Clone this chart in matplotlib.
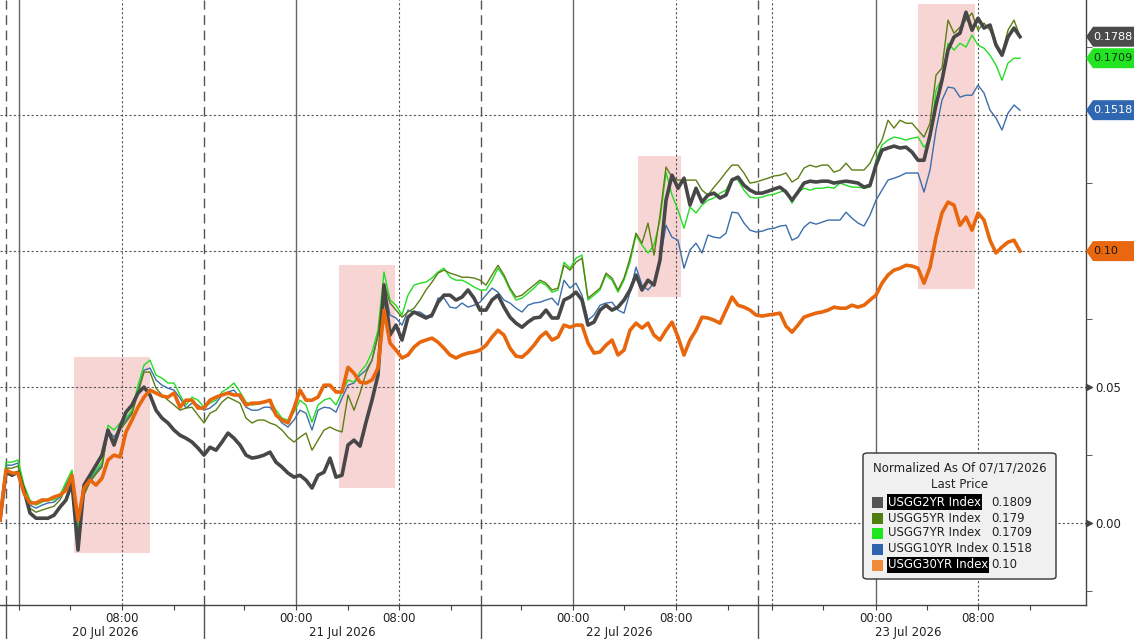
import numpy as np
import matplotlib.pyplot as plt
from matplotlib.patches import Rectangle, FancyBboxPatch, Polygon
from matplotlib.transforms import blended_transform_factory, IdentityTransform

plt.rcParams['font.family'] = ['DejaVu Sans']

# normalized change (in thousandths), one sample per step of the
# gap-compressed intraday axis, 20 Jul -> 23 Jul 2026
usgg2yr = [1.1, 18.7, 17.6, 18.7, 12.1, 3.7, 1.8, 1.8, 1.8, 2.9,
           5.9, 8.5, 14.7, -9.9, 14.0, 17.6, 21.3, 25.0, 34.2, 28.7,
           35.3, 40.8, 43.4, 47.8, 50.0, 47.1, 41.5, 38.6, 36.8, 34.2,
           32.3, 31.2, 29.8, 27.6, 25.0, 27.9, 26.8, 29.8, 33.1, 31.2,
           28.7, 25.0, 23.9, 24.3, 25.0, 26.1, 22.4, 20.6, 18.4, 16.9,
           17.6, 15.8, 12.9, 17.6, 18.7, 23.9, 16.9, 17.6, 28.7, 30.5,
           28.3, 37.1, 45.2, 54.4, 87.5, 69.1, 72.8, 67.3, 75.7, 77.6,
           76.5, 75.4, 76.5, 81.2, 83.8, 83.8, 82.0, 83.1, 85.7, 82.7,
           78.3, 78.3, 82.0, 83.8, 79.4, 75.7, 73.5, 72.0, 73.9, 75.4,
           75.7, 78.3, 75.4, 75.4, 82.0, 83.1, 84.9, 82.0, 72.8, 73.9,
           78.3, 80.1, 78.3, 79.4, 82.0, 85.7, 91.2, 85.7, 89.3, 87.5,
           96.7, 118.7, 127.9, 123.1, 126.8, 116.9, 123.1, 118.0, 120.6, 121.3,
           119.5, 120.6, 126.1, 127.2, 124.2, 122.4, 121.3, 121.3, 122.0, 122.8,
           123.5, 121.7, 118.7, 121.7, 125.0, 125.7, 125.4, 125.7, 125.7, 125.0,
           125.4, 125.7, 125.4, 125.0, 123.5, 124.2, 131.6, 137.1, 137.9, 138.6,
           137.9, 138.2, 136.4, 133.4, 133.4, 142.6, 153.7, 162.8, 173.9, 178.7,
           180.1, 187.8, 181.2, 185.6, 182.0, 183.1, 175.7, 172.0, 178.7, 182.0,
           178.8]

usgg5yr = [1.1, 20.2, 20.2, 21.0, 12.1, 5.5, 4.0, 4.8, 5.5, 6.2,
           8.5, 12.9, 17.3, -5.5, 10.3, 15.1, 18.0, 20.6, 33.5, 30.5,
           34.2, 37.1, 40.1, 47.8, 55.5, 55.5, 49.6, 47.1, 45.2, 43.4,
           41.5, 42.3, 42.6, 39.7, 36.8, 40.4, 41.5, 44.5, 46.3, 45.2,
           44.1, 38.6, 36.8, 37.9, 37.9, 36.8, 36.0, 34.2, 31.6, 29.8,
           31.6, 33.1, 26.8, 30.5, 34.2, 35.3, 34.2, 33.5, 47.1, 41.5,
           47.8, 55.1, 59.9, 69.1, 88.2, 80.9, 78.3, 75.7, 77.6, 79.0,
           82.0, 85.7, 88.6, 91.9, 93.0, 91.9, 91.2, 90.4, 90.4, 90.1,
           89.3, 87.5, 91.2, 94.8, 91.2, 86.4, 83.1, 83.8, 85.7, 87.5,
           89.3, 88.2, 85.7, 86.4, 94.8, 93.0, 95.9, 97.4, 82.7, 84.5,
           86.4, 91.9, 90.1, 85.7, 90.1, 97.4, 106.6, 102.9, 110.3, 98.5,
           113.2, 130.9, 127.2, 126.1, 126.1, 126.1, 126.1, 122.4, 120.6, 123.5,
           126.1, 129.0, 131.6, 131.6, 128.7, 125.0, 125.4, 126.1, 126.8, 127.6,
           127.9, 128.7, 125.4, 126.8, 130.5, 131.6, 130.9, 131.6, 131.6, 129.0,
           129.8, 132.3, 129.8, 129.8, 129.8, 132.3, 137.1, 140.8, 148.1, 145.2,
           148.1, 147.0, 147.0, 144.5, 141.9, 147.0, 164.7, 167.3, 184.9, 180.1,
           182.3, 184.9, 187.5, 181.2, 183.8, 181.2, 176.4, 172.8, 181.2, 184.9,
           179.0]

usgg7yr = [1.1, 22.4, 22.4, 23.2, 14.0, 8.5, 6.6, 7.7, 8.5, 8.5,
           10.3, 15.1, 19.5, -2.6, 12.1, 16.5, 19.5, 22.4, 36.0, 34.2,
           36.8, 38.6, 41.5, 50.7, 58.1, 59.9, 54.4, 53.3, 51.5, 51.5,
           47.1, 43.4, 46.3, 45.2, 42.6, 44.1, 45.2, 48.2, 49.6, 51.5,
           48.2, 44.5, 43.4, 43.7, 44.5, 45.2, 41.5, 38.6, 37.9, 40.8,
           45.2, 43.4, 37.1, 43.4, 45.2, 46.0, 43.4, 48.2, 52.6, 51.8,
           55.5, 58.1, 62.9, 70.9, 92.3, 82.0, 80.1, 76.5, 83.8, 87.5,
           88.2, 88.6, 90.1, 92.3, 93.7, 90.4, 89.3, 89.3, 88.2, 86.8,
           85.7, 85.7, 89.3, 93.7, 90.4, 85.7, 82.0, 82.7, 84.5, 86.4,
           88.6, 87.5, 84.9, 85.7, 95.9, 93.7, 97.4, 98.5, 82.0, 83.8,
           85.7, 91.2, 89.3, 84.9, 89.3, 95.9, 105.9, 102.2, 99.3, 102.2,
           111.4, 129.0, 120.6, 115.1, 108.4, 116.2, 114.0, 116.9, 118.7, 119.5,
           121.3, 122.4, 126.8, 126.1, 122.4, 119.8, 119.5, 119.8, 120.6, 120.9,
           121.7, 122.4, 117.6, 121.7, 123.1, 122.4, 123.1, 123.1, 123.5, 123.1,
           125.0, 124.2, 123.5, 123.5, 123.1, 123.5, 133.4, 139.0, 140.8, 141.9,
           141.5, 140.8, 141.5, 141.9, 138.2, 140.8, 159.2, 163.6, 176.4, 173.9,
           176.4, 175.0, 179.4, 175.7, 174.6, 172.0, 168.4, 162.8, 169.1, 170.9,
           170.9]

usgg10yr = [1.1, 21.3, 21.3, 22.1, 13.2, 6.6, 5.5, 6.6, 7.4, 7.7,
            9.6, 14.0, 18.4, -4.4, 11.4, 15.8, 18.7, 21.3, 34.2, 31.6,
            34.9, 37.9, 40.8, 48.9, 56.2, 57.0, 52.6, 50.7, 49.6, 48.9,
            46.0, 42.3, 44.1, 43.4, 41.5, 42.3, 44.1, 47.1, 48.2, 48.9,
            46.0, 42.6, 41.5, 41.5, 42.6, 42.6, 39.7, 36.8, 35.3, 37.9,
            41.5, 40.4, 34.2, 41.5, 42.6, 42.3, 40.8, 46.0, 50.7, 51.5,
            54.4, 56.2, 59.9, 69.1, 87.5, 76.5, 75.4, 72.8, 78.3, 77.6,
            77.6, 76.1, 75.7, 82.7, 82.7, 79.4, 79.0, 80.9, 79.4, 80.1,
            81.2, 83.8, 86.4, 84.9, 82.0, 80.9, 79.0, 77.6, 80.1, 80.9,
            81.2, 82.0, 82.7, 80.1, 89.3, 86.4, 88.2, 83.8, 74.6, 76.5,
            80.1, 80.9, 81.2, 78.3, 77.2, 84.9, 94.1, 87.5, 85.7, 88.2,
            96.7, 109.5, 105.1, 104.0, 93.7, 100.4, 102.9, 99.3, 105.9, 105.1,
            104.8, 106.6, 114.3, 114.0, 110.3, 107.7, 107.0, 107.3, 108.1, 108.4,
            109.2, 109.5, 104.0, 105.1, 108.8, 110.6, 109.9, 110.6, 111.4, 111.4,
            111.4, 114.3, 112.1, 110.3, 109.2, 113.2, 118.7, 122.4, 126.1, 126.8,
            127.6, 128.7, 128.7, 128.7, 121.7, 129.8, 144.5, 155.5, 160.3, 159.9,
            156.6, 157.3, 157.3, 161.0, 158.1, 151.8, 148.9, 144.5, 150.7, 153.7,
            151.8]

usgg30yr = [1.1, 19.5, 18.4, 18.4, 11.0, 7.4, 7.4, 8.5, 8.5, 9.6,
            10.3, 12.1, 17.6, 1.1, 12.9, 15.8, 14.0, 16.5, 23.2, 25.0,
            24.3, 33.5, 37.9, 42.6, 46.3, 48.9, 47.8, 46.7, 46.3, 47.8,
            42.6, 45.2, 45.2, 42.3, 42.3, 45.2, 46.3, 47.1, 47.8, 47.1,
            47.1, 43.4, 44.1, 44.1, 44.5, 45.2, 39.7, 37.9, 36.8, 42.3,
            48.9, 45.2, 45.2, 46.3, 50.7, 50.7, 48.2, 48.2, 57.3, 55.1,
            51.8, 51.5, 52.6, 57.0, 78.3, 66.2, 63.6, 60.7, 61.8, 64.7,
            66.5, 67.3, 68.0, 66.5, 64.3, 61.8, 60.7, 61.8, 62.5, 62.9,
            63.6, 65.4, 68.4, 70.9, 69.1, 64.3, 61.4, 61.0, 62.9, 65.4,
            68.4, 70.2, 67.3, 68.4, 72.8, 72.0, 72.8, 72.8, 66.2, 62.5,
            62.9, 65.4, 67.3, 61.8, 63.6, 70.9, 73.5, 71.7, 73.5, 69.1,
            67.3, 70.9, 73.9, 68.4, 61.8, 67.3, 70.9, 75.7, 75.4, 74.6,
            73.5, 78.3, 83.1, 80.1, 79.4, 78.3, 76.5, 76.1, 76.5, 76.8,
            77.2, 72.4, 70.2, 72.8, 75.7, 76.5, 77.2, 77.6, 78.3, 79.4,
            79.0, 79.0, 80.1, 79.4, 80.1, 82.0, 83.8, 88.2, 91.2, 93.0,
            93.7, 94.8, 94.5, 93.7, 88.2, 94.1, 105.1, 114.0, 118.0, 116.9,
            109.5, 112.5, 107.7, 114.0, 111.4, 104.0, 99.3, 101.5, 103.3, 104.0,
            100.0]

names = ['USGG2YR Index', 'USGG5YR Index', 'USGG7YR Index', 'USGG10YR Index', 'USGG30YR Index']
last_price = ['0.1809', '0.179', '0.1709', '0.1518', '0.10']

# shaded "move" windows: start, end (axis steps), low, high
zone_start = [12.3, 56.5, 106.3, 153.0]
zone_end = [25.0, 65.8, 113.5, 162.5]
zone_low = [-0.011, 0.013, 0.083, 0.086]
zone_high = [0.061, 0.095, 0.135, 0.191]

# x axis (steps): session breaks, midnights, 08:00, minor ticks
session_break = [1.0, 34.0, 80.2, 126.3]
midnight = [3.2, 49.3, 95.5, 146.0]
eight_am = [20.3, 66.5, 112.7, 163.0]
tick_pos = [3.2, 11.7, 20.3, 29.0, 40.7, 49.3, 58.0, 66.5, 75.2, 86.8,
            95.5, 104.0, 112.7, 121.3, 128.7, 137.2, 146.0, 154.5, 163.0, 171.7]
days = ['20 Jul 2026', '21 Jul 2026', '22 Jul 2026', '23 Jul 2026']

# last value callouts on the right axis
call_vals = [0.1788, 0.1709, 0.1518, 0.10]
call_text = ['0.1788', '0.1709', '0.1518', '0.10']
call_fc = ['#4b4b4b', '#22e422', '#2f68b0', '#e8670f']
call_tc = ['white', '#0d2f0d', 'white', '#1a1a1a']

series = [usgg2yr, usgg5yr, usgg7yr, usgg10yr, usgg30yr]
colors = ['#474747', '#5b7f14', '#22dd22', '#3b6eaa', '#e8660c']
legend_colors = ['#555555', '#4e7d10', '#1ee61e', '#2c64ad', '#f28a3c']
widths = [2.6, 1.0, 1.0, 1.0, 2.6]
draw_order = [3, 2, 1, 0, 4]

W, H = 1134, 639
fig = plt.figure(figsize=(W / 100, H / 100), dpi=100)
ax = fig.add_axes([0, 34 / H, 1086 / W, 605 / H])
ax.set_xlim(0, 181)
ax.set_ylim(-0.0301, 0.1923)

for s, e, lo, hi in zip(zone_start, zone_end, zone_low, zone_high):
    ax.add_patch(Rectangle((s, lo), e - s, hi - lo, fc='#f8d5d5', ec='none', zorder=0))

for y in [0, 0.05, 0.10, 0.15]:
    ax.axhline(y, color='#555555', lw=0.8, ls=(0, (2, 2)), zorder=1)
for x in eight_am + [128.7]:
    ax.axvline(x, color='#555555', lw=0.8, ls=(0, (2, 2)), zorder=1)
for x in midnight:
    ax.axvline(x, color='#666666', lw=1.0, zorder=1)
for x in session_break:
    ax.axvline(x, color='#555555', lw=1.0, ls=(0, (7, 4)), zorder=1)
    ax.plot([x, x], [0, -0.06], color='#555555', lw=1.0,
            transform=ax.get_xaxis_transform(), clip_on=False)

for i in draw_order:
    vals = np.array(series[i]) / 1000
    ax.plot(np.arange(len(vals)), vals, color=colors[i], lw=widths[i], zorder=3)

# axes styling
for side in ['left', 'top']:
    ax.spines[side].set_visible(False)
for side in ['right', 'bottom']:
    ax.spines[side].set_color('#444444')
    ax.spines[side].set_linewidth(1.0)

ax.set_xticks(tick_pos)
ax.set_xticklabels(['08:00' if t in eight_am else '00:00' if t in midnight and t != midnight[0] else ''
                    for t in tick_pos])
ax.tick_params(axis='x', length=3.5, color='#444444', labelsize=8.5, labelcolor='#222222', pad=1.5)

# 0.10 and 0.15 labels sit under the callouts, so only 0.00 / 0.05 are written
ax.yaxis.tick_right()
ax.set_yticks([0, 0.05, 0.10, 0.15])
ax.set_yticklabels(['0.00', '0.05', '', ''])
ax.set_yticks([-0.025, 0.025, 0.075, 0.125, 0.175], minor=True)
ax.tick_params(axis='y', which='major', length=0, labelsize=8.5, labelcolor='#222222', pad=7)
ax.tick_params(axis='y', which='minor', length=4, color='#444444')
bt = blended_transform_factory(ax.transAxes, ax.transData)
for y in [0, 0.05]:
    ax.plot([1.003], [y], marker='>', ms=4.5, color='#444444', transform=bt, clip_on=False)

edges = session_break + [176.3]
for k, d in enumerate(days):
    ax.text((edges[k] + edges[k + 1]) / 2, -0.045, d, transform=ax.get_xaxis_transform(),
            ha='center', va='center', fontsize=8.5, color='#222222')

# callout tags: pointed left edge at the spine, box running off the right edge
x_spine = ax.transAxes.transform((1, 0))[0]
for v, t, fc, tc in zip(call_vals, call_text, call_fc, call_tc):
    yc = ax.transData.transform((0, v))[1]
    pts = [(x_spine, yc), (x_spine + 7, yc + 10), (W + 2, yc + 10),
           (W + 2, yc - 10), (x_spine + 7, yc - 10)]
    fig.patches.append(Polygon(pts, closed=True, fc=fc, ec='none',
                               transform=IdentityTransform(), zorder=5))
    fig.text((x_spine + 7) / W, yc / H, t, ha='left', va='center', fontsize=8.1,
             color=tc, zorder=6)


# legend box, laid out in pixel positions
def fx(px):
    return px / W


def fy(py):
    return 1 - py / H


fig.patches.append(FancyBboxPatch((fx(863), fy(579)), fx(1056) - fx(863), fy(453) - fy(579),
                                  boxstyle='round,pad=0,rounding_size=0.004',
                                  fc='#f0f0f0', ec='#333333', lw=1, transform=fig.transFigure))
fig.text(fx(959.5), fy(468), 'Normalized As Of 07/17/2026', ha='center', va='center',
         fontsize=8.5, color='#222222')
fig.text(fx(959.5), fy(485), 'Last Price', ha='center', va='center', fontsize=8.5, color='#222222')
row_y = [502, 518, 533, 549, 565]
for k in range(5):
    fig.patches.append(Rectangle((fx(872), fy(row_y[k] + 5.5)), fx(11), 11 / H,
                                 fc=legend_colors[k], ec='none', transform=fig.transFigure))
    if k in (0, 4):
        fig.text(fx(888), fy(row_y[k]), names[k], ha='left', va='center', fontsize=8.5,
                 color='white', bbox=dict(boxstyle='square,pad=0.1', fc='black', ec='none'))
    else:
        fig.text(fx(888), fy(row_y[k]), names[k], ha='left', va='center', fontsize=8.5,
                 color='#222222')
    fig.text(fx(991), fy(row_y[k]), last_price[k], ha='left', va='center', fontsize=8.5,
             color='#222222')

fig.savefig('out.png', dpi=100, facecolor='white')
